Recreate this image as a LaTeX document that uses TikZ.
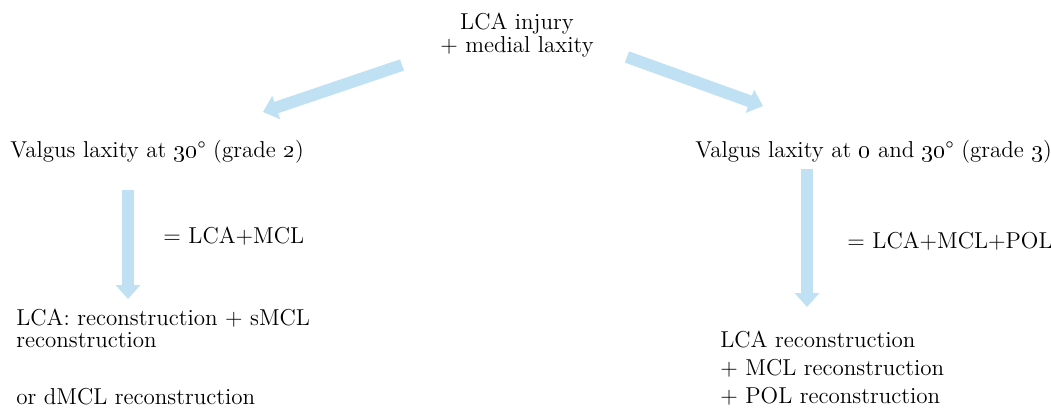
\documentclass[tikz,border=0pt]{standalone}
\usetikzlibrary{arrows.meta}
\definecolor{flowblue}{RGB}{191,225,243}
\tikzset{
  flow/.style={flowblue, line width=6pt, -{Triangle[width=12pt,length=7pt]}},
  txt/.style={font=\fontsize{11.5}{11.5}\selectfont, inner sep=0pt, anchor=base west, align=left}
}
\begin{document}
\begin{tikzpicture}[x=0.5pt,y=-0.5pt]
\useasboundingbox (0,0) rectangle (1051,412);
% multi-line nodes sit on their last baseline
\node[txt, anchor=base, align=center] (injury) at (517,53) {LCA injury\\+ medial laxity};
\node[txt] (gradeII) at (10,157) {Valgus laxity at \oldstylenums{30}° (grade \oldstylenums{2})};
\node[txt] (gradeIII) at (695,157) {Valgus laxity at \oldstylenums{0} and \oldstylenums{30}° (grade \oldstylenums{3})};
\node[txt] (sumII) at (163,243) {= LCA+MCL};
\node[txt] (sumIII) at (847,248) {= LCA+MCL+POL};
\node[txt, font=\fontsize{11.5}{11}\selectfont] (repairII) at (16,404) {LCA: reconstruction + sMCL\\reconstruction\\[17.5pt]or dMCL reconstruction};
\node[txt] (repairIII) at (720,403) {LCA reconstruction\\[2.5pt]+ MCL reconstruction\\[2.5pt]+ POL reconstruction};
% arrow ends
\coordinate (fromL) at (402,65);
\coordinate (toL) at (263,112);
\coordinate (fromR) at (627,57);
\coordinate (toR) at (763,106);
\coordinate (downL) at (128,190);
\coordinate (tipL) at (128,299);
\coordinate (downR) at (807,169);
\coordinate (tipR) at (807,307);
\draw[flow] (fromL)--(toL);
\draw[flow] (fromR)--(toR);
\draw[flow] (downL)--(tipL);
\draw[flow] (downR)--(tipR);
\end{tikzpicture}
\end{document}
